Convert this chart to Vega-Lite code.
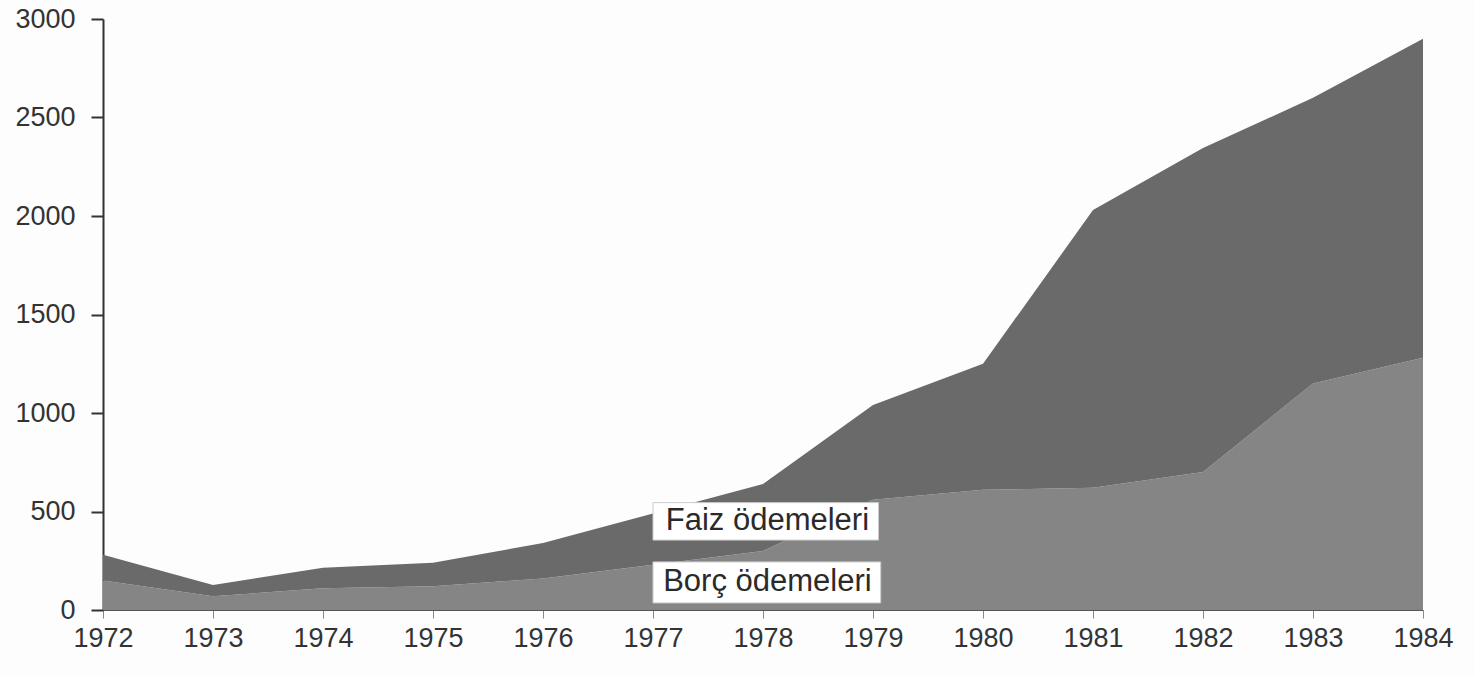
{
  "$schema": "https://vega.github.io/schema/vega-lite/v6.json",
  "width": 1320,
  "height": 591,
  "autosize": {"type": "none"},
  "padding": {"left": 103, "top": 19, "right": 52, "bottom": 66},
  "background": "#fdfdfd",
  "config": {
    "view": {"stroke": null},
    "font": "Liberation Sans"
  },
  "datasets": {
    "series": [
      {"year": 1972, "seri": "Borç ödemeleri", "deger": 150},
      {"year": 1973, "seri": "Borç ödemeleri", "deger": 70},
      {"year": 1974, "seri": "Borç ödemeleri", "deger": 110},
      {"year": 1975, "seri": "Borç ödemeleri", "deger": 120},
      {"year": 1976, "seri": "Borç ödemeleri", "deger": 160},
      {"year": 1977, "seri": "Borç ödemeleri", "deger": 230},
      {"year": 1978, "seri": "Borç ödemeleri", "deger": 300},
      {"year": 1979, "seri": "Borç ödemeleri", "deger": 560},
      {"year": 1980, "seri": "Borç ödemeleri", "deger": 610},
      {"year": 1981, "seri": "Borç ödemeleri", "deger": 620},
      {"year": 1982, "seri": "Borç ödemeleri", "deger": 700},
      {"year": 1983, "seri": "Borç ödemeleri", "deger": 1150},
      {"year": 1984, "seri": "Borç ödemeleri", "deger": 1280},
      {"year": 1972, "seri": "Faiz ödemeleri", "deger": 130},
      {"year": 1973, "seri": "Faiz ödemeleri", "deger": 57},
      {"year": 1974, "seri": "Faiz ödemeleri", "deger": 105},
      {"year": 1975, "seri": "Faiz ödemeleri", "deger": 120},
      {"year": 1976, "seri": "Faiz ödemeleri", "deger": 180},
      {"year": 1977, "seri": "Faiz ödemeleri", "deger": 260},
      {"year": 1978, "seri": "Faiz ödemeleri", "deger": 340},
      {"year": 1979, "seri": "Faiz ödemeleri", "deger": 480},
      {"year": 1980, "seri": "Faiz ödemeleri", "deger": 640},
      {"year": 1981, "seri": "Faiz ödemeleri", "deger": 1410},
      {"year": 1982, "seri": "Faiz ödemeleri", "deger": 1645},
      {"year": 1983, "seri": "Faiz ödemeleri", "deger": 1450},
      {"year": 1984, "seri": "Faiz ödemeleri", "deger": 1620}
    ],
    "labels": [
      {"x1": 1977.0, "x2": 1979.05, "y1": 355, "y2": 545, "ty": 450, "text": "Faiz ödemeleri"},
      {"x1": 1977.0, "x2": 1979.07, "y1": 36, "y2": 244, "ty": 140, "text": "Borç ödemeleri"}
    ]
  },
  "layer": [
    {
      "data": {"name": "series"},
      "mark": {"type": "area", "interpolate": "linear"},
      "encoding": {
        "x": {
          "field": "year", "type": "quantitative",
          "scale": {"domain": [1972, 1984], "nice": false, "zero": false},
          "axis": {
            "title": null, "values": [1972,1973,1974,1975,1976,1977,1978,1979,1980,1981,1982,1983,1984],
            "format": "d", "grid": false, "labelFontSize": 27, "labelColor": "#333333",
            "domainColor": "#555555", "tickColor": "#888888", "tickSize": 8, "labelPadding": 7,
            "labelFlush": false
          }
        },
        "y": {
          "field": "deger", "type": "quantitative", "stack": "zero",
          "scale": {"domain": [0, 3000], "nice": false},
          "axis": {
            "title": null, "values": [0,500,1000,1500,2000,2500,3000], "format": "d",
            "grid": false, "labelFontSize": 27, "labelColor": "#333333",
            "domainColor": "#333333", "domainWidth": 2, "tickColor": "#333333", "tickSize": 12, "tickWidth": 2,
            "labelPadding": 16
          }
        },
        "color": {
          "field": "seri", "type": "nominal",
          "scale": {"domain": ["Borç ödemeleri", "Faiz ödemeleri"], "range": ["#858585", "#6a6a6a"]},
          "legend": null
        },
        "order": {"field": "seri", "sort": "ascending"}
      }
    },
    {
      "data": {"name": "labels"},
      "mark": {"type": "rect", "fill": "#ffffff", "stroke": "#cccccc", "strokeWidth": 1},
      "encoding": {
        "x": {"field": "x1", "type": "quantitative"},
        "x2": {"field": "x2"},
        "y": {"field": "y1", "type": "quantitative"},
        "y2": {"field": "y2"}
      }
    },
    {
      "data": {"name": "labels"},
      "mark": {"type": "text", "fontSize": 31, "color": "#2a2a2a", "align": "center", "baseline": "middle"},
      "encoding": {
        "x": {"datum": 1978.04, "type": "quantitative"},
        "y": {"field": "ty", "type": "quantitative"},
        "text": {"field": "text"}
      }
    }
  ]
}
